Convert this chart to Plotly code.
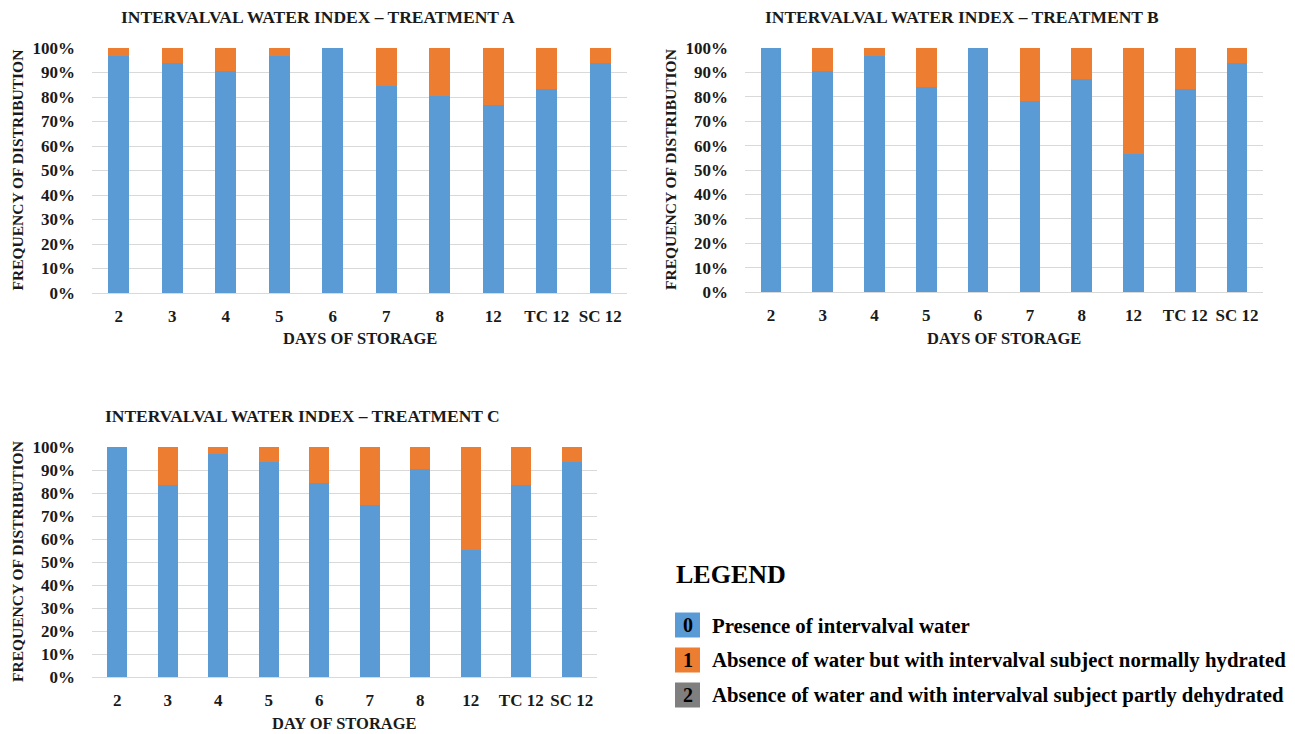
import plotly.graph_objects as go

categories = ["2", "3", "4", "5", "6", "7", "8", "12", "TC 12", "SC 12"]

# Score 0 = presence of intervalval water (%), Score 1 = absence but normally hydrated (%)
a_score0 = [96.9, 93.9, 90.7, 96.9, 100, 84.6, 80.6, 76.7, 83.2, 93.7]
b_score0 = [100, 90.4, 96.8, 83.9, 100, 78.3, 87.1, 56.7, 83.1, 93.7]
c_score0 = [100, 83.4, 96.8, 93.6, 84.4, 75.0, 90.4, 55.1, 83.4, 93.6]

a_score1 = [round(100 - v, 1) for v in a_score0]
b_score1 = [round(100 - v, 1) for v in b_score0]
c_score1 = [round(100 - v, 1) for v in c_score0]
zero_score2 = [0] * len(categories)

titles = ["INTERVALVAL WATER INDEX – TREATMENT A",
          "INTERVALVAL WATER INDEX – TREATMENT B",
          "INTERVALVAL WATER INDEX – TREATMENT C"]
xtitles = ["DAYS OF STORAGE", "DAYS OF STORAGE", "DAY OF STORAGE"]

legend_codes = ["0", "1", "2"]
legend_labels = ["Presence of intervalval water",
                 "Absence of water but with intervalval subject normally hydrated",
                 "Absence of water and with intervalval subject partly dehydrated"]
colors = ["#5B9BD5", "#ED7D31", "#7F7F7F"]

W, H = 1295, 734
FONT = "Liberation Serif"
OFF = 8  # page body margin offset

def px(x):
    return (x - OFF) / W

def py(y):
    return 1 - (y - OFF) / H

# panel geometry (pixels): x0, x1, y_top(100%), y_bottom(0%)
panels = [(92, 627, 48, 293), (745, 1263, 48, 292), (92, 597, 447, 677)]
data = [(a_score0, a_score1), (b_score0, b_score1), (c_score0, c_score1)]

fig = go.Figure()
layout = dict(
    width=W, height=H, margin=dict(l=0, r=0, t=0, b=0, autoexpand=False),
    paper_bgcolor="white", plot_bgcolor="white",
    barmode="stack", bargap=0.6, showlegend=False,
    font=dict(family=FONT, color="#1a1a1a"),
)
annotations = []
shapes = []

for i, ((x0, x1, yt, yb), (s0, s1)) in enumerate(zip(panels, data)):
    n = "" if i == 0 else str(i + 1)
    xa, ya = "x" + n, "y" + n
    for vals, col in zip((s0, s1, zero_score2), colors):
        fig.add_trace(go.Bar(x=categories, y=vals, marker=dict(color=col, line=dict(width=0)),
                             xaxis=xa, yaxis=ya))
    layout["xaxis" + n] = dict(
        domain=[px(x0), px(x1)], anchor=ya, showgrid=False, showline=True,
        linecolor="#D9D9D9", linewidth=1, ticks="", ticklabelstandoff=8,
        automargin=False,
        tickfont=dict(family=FONT, size=17, color="#1a1a1a", weight="bold"),
    )
    layout["yaxis" + n] = dict(
        domain=[py(yb), py(yt)], anchor=xa, range=[0, 100], dtick=10,
        ticksuffix="%", showgrid=True, gridcolor="#D9D9D9", gridwidth=1,
        zeroline=False, showline=False, ticks="", ticklabelstandoff=16,
        automargin=False,
        tickfont=dict(family=FONT, size=17, color="#1a1a1a", weight="bold"),
    )
    cx = (x0 + x1) / 2
    annotations.append(dict(text="<b>" + titles[i] + "</b>", x=px(cx - 42), y=py(yt - 31),
                            xref="paper", yref="paper", showarrow=False,
                            font=dict(family=FONT, size=17.5, color="#1a1a1a"),
                            xanchor="center", yanchor="middle"))
    annotations.append(dict(text="<b>" + xtitles[i] + "</b>", x=px(cx), y=py(yb + 46),
                            xref="paper", yref="paper", showarrow=False,
                            font=dict(family=FONT, size=16.5, color="#1a1a1a"),
                            xanchor="center", yanchor="middle"))
    annotations.append(dict(text="<b>FREQUENCY OF DISTRIBUTION</b>", x=px(x0 - 75),
                            y=py((yt + yb) / 2), xref="paper", yref="paper", showarrow=False,
                            textangle=-90,
                            font=dict(family=FONT, size=15.5, color="#1a1a1a"),
                            xanchor="center", yanchor="middle"))

# Legend block
annotations.append(dict(text="<b>LEGEND</b>", x=px(674), y=py(574), xref="paper", yref="paper",
                        showarrow=False, xanchor="left", yanchor="middle",
                        font=dict(family=FONT, size=26, color="#000000")))
for k, (code, lab, col) in enumerate(zip(legend_codes, legend_labels, colors)):
    yc = 625 + k * 35
    shapes.append(dict(type="rect", xref="paper", yref="paper",
                       x0=px(675), x1=px(700), y0=py(yc + 12.5), y1=py(yc - 12.5),
                       fillcolor=col, line=dict(width=0)))
    annotations.append(dict(text="<b>" + code + "</b>", x=px(687.5), y=py(yc), xref="paper",
                            yref="paper", showarrow=False, xanchor="center", yanchor="middle",
                            font=dict(family=FONT, size=20, color="#000000")))
    annotations.append(dict(text="<b>" + lab + "</b>", x=px(710), y=py(yc), xref="paper",
                            yref="paper", showarrow=False, xanchor="left", yanchor="middle",
                            font=dict(family=FONT, size=20.8, color="#000000")))

layout["annotations"] = annotations
layout["shapes"] = shapes
fig.update_layout(**layout)
fig.write_html("out.html")
